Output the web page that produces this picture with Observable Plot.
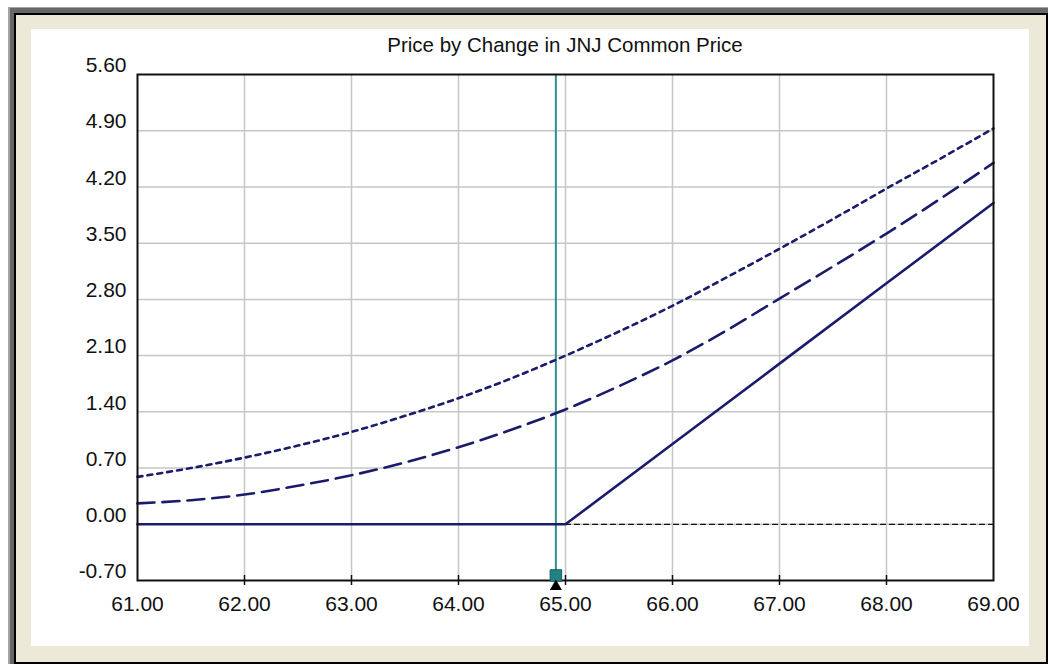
<!DOCTYPE html>
<html>
<head>
<meta charset="utf-8">
<script src="https://cdn.jsdelivr.net/npm/d3@7"></script>
<script src="https://cdn.jsdelivr.net/npm/@observablehq/plot@0.6"></script>
<style>
  html, body { margin: 0; padding: 0; background: #ffffff; width: 1048px; height: 664px; overflow: hidden; }
  .abs { position: absolute; box-sizing: border-box; }
  #chart { position: absolute; left: 31px; top: 29px; }
  #title { position: absolute; left: 137px; width: 856px; top: 33px; text-align: center;
           font-family: "Liberation Sans", Arial, sans-serif; font-size: 20.5px; color: #111; }
</style>
</head>
<body>
<div class="abs" style="left:8px;top:7px;width:1040px;height:657px;background:#a4a4a4;"></div>
<div class="abs" style="left:10px;top:8px;width:1038px;height:656px;background:#676767;"></div>
<div class="abs" style="left:14px;top:13px;width:1034px;height:651px;background:#ece9d8;border:2px solid #000;"></div>
<div class="abs" style="left:31px;top:29px;width:998px;height:617px;background:#ffffff;"></div>
<div id="chart"></div>
<div id="title">Price by Change in JNJ Common Price</div>
<script>
// ---- data ----
const title = "Price by Change in JNJ Common Price";
const xTicks = [61, 62, 63, 64, 65, 66, 67, 68, 69];
const yTicks = [-0.7, 0, 0.7, 1.4, 2.1, 2.8, 3.5, 4.2, 4.9, 5.6];
const prices = [61, 61.5, 62, 62.5, 63, 63.5, 64, 64.5, 65, 65.5, 66, 66.5, 67, 67.5, 68, 68.5, 69];
const dottedValues = [0.59, 0.70, 0.83, 0.98, 1.15, 1.35, 1.57, 1.82, 2.10, 2.40, 2.72, 3.07, 3.43, 3.80, 4.18, 4.55, 4.93];
const dashedValues = [0.26, 0.30, 0.37, 0.48, 0.61, 0.77, 0.96, 1.18, 1.43, 1.72, 2.04, 2.41, 2.81, 3.21, 3.62, 4.05, 4.50];
const expiryPrices = [61, 62, 63, 64, 65, 66, 67, 68, 69];
const expiryValues = [0, 0, 0, 0, 0, 1.0, 2.0, 3.0, 4.0];
const zeroRefPrices = [65, 69];
const zeroRefValues = [0, 0];
const currentPrice = 64.91;

const dotted = prices.map((p, i) => ({price: p, value: dottedValues[i]}));
const dashed = prices.map((p, i) => ({price: p, value: dashedValues[i]}));
const expiry = expiryPrices.map((p, i) => ({price: p, value: expiryValues[i]}));
const zeroRef = zeroRefPrices.map((p, i) => ({price: p, value: zeroRefValues[i]}));
const innerX = xTicks.slice(1, -1);
const innerY = yTicks.slice(1, -1);
const navy = "#1b1b6b";
const fmt = d => d.toFixed(2);

const chart = Plot.plot({
  width: 998,
  height: 617,
  marginLeft: 106,
  marginTop: 45,
  marginRight: 36,
  marginBottom: 66,
  x: {domain: [61, 69]},
  y: {domain: [-0.7, 5.6]},
  style: {background: "white", fontFamily: "'Liberation Sans', Arial, sans-serif", color: "#111"},
  marks: [
    Plot.gridX(innerX, {stroke: "#c6c6c6", strokeOpacity: 1, strokeWidth: 1.5}),
    Plot.gridY(innerY, {stroke: "#c6c6c6", strokeOpacity: 1, strokeWidth: 1.5}),
    Plot.line(zeroRef, {x: "price", y: "value", stroke: "#111", strokeWidth: 1.2, strokeDasharray: "5,4"}),
    Plot.ruleX([currentPrice], {stroke: "#2f8f8f", strokeWidth: 2}),
    Plot.line(dotted, {x: "price", y: "value", stroke: navy, strokeWidth: 2.6, strokeDasharray: "5,5", curve: "monotone-x"}),
    Plot.line(dashed, {x: "price", y: "value", stroke: navy, strokeWidth: 2.6, strokeDasharray: "17,8", curve: "monotone-x"}),
    Plot.line(expiry, {x: "price", y: "value", stroke: navy, strokeWidth: 2.6}),
    Plot.frame({stroke: "#111", strokeWidth: 2}),
    Plot.ruleX(innerX, {x: d => d, y1: -0.7, y2: -0.7, insetTop: -5, insetBottom: -5, stroke: "#111", strokeWidth: 1.5}),
    Plot.axisY(yTicks, {tickSize: 0, tickPadding: 11, dy: -9, tickFormat: fmt, fontSize: 21, label: null}),
    Plot.axisX(xTicks, {tickSize: 0, tickPadding: 16, tickFormat: fmt, fontSize: 21, label: null}),
    Plot.dot([currentPrice], {x: d => d, y: -0.7, symbol: "square", r: 6.5, dy: -5, fill: "#228282", stroke: "#175f5f", strokeWidth: 1}),
    Plot.dot([currentPrice], {x: d => d, y: -0.7, symbol: "triangle", r: 4.5, dy: 6, fill: "#000", stroke: "none"})
  ]
});
document.getElementById("chart").appendChild(chart);
</script>
</body>
</html>
